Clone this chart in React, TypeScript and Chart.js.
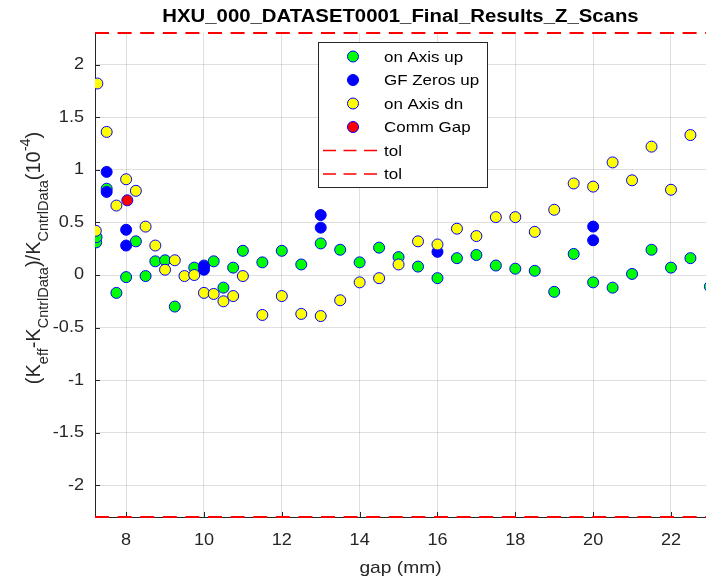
import React, { useEffect, useRef } from "react";
import { Chart, registerables } from "chart.js";

Chart.register(...registerables);

// ---------- data ----------
const titleText = "HXU_000_DATASET0001_Final_Results_Z_Scans";
const xAxisLabel = "gap (mm)";
const xTicks = [8, 10, 12, 14, 16, 18, 20, 22];
const yTicks = [-2, -1.5, -1, -0.5, 0, 0.5, 1, 1.5, 2];
const xRange = [7.2, 22.9];
const yRange = [-2.3, 2.3];

const onAxisUpX = [7.23, 7.24, 7.5, 7.75, 8, 8.25, 8.5, 8.75, 9, 9.25, 9.75, 10, 10.25, 10.5, 10.75, 11, 11.5, 12, 12.5, 13, 13.5, 14, 14.5, 15, 15.5, 16, 16.5, 17, 17.5, 18, 18.5, 19, 19.5, 20, 20.5, 21, 21.5, 22, 22.5, 23];
const onAxisUpY = [0.31, 0.36, 0.82, -0.17, -0.02, 0.32, -0.01, 0.13, 0.14, -0.3, 0.07, 0.09, 0.13, -0.12, 0.07, 0.23, 0.12, 0.23, 0.1, 0.3, 0.24, 0.12, 0.26, 0.17, 0.08, -0.03, 0.16, 0.19, 0.09, 0.06, 0.04, -0.16, 0.2, -0.07, -0.12, 0.01, 0.24, 0.07, 0.16, -0.11];

const gfZerosUpX = [7.5, 7.5, 8, 8, 10, 10, 13, 13, 16, 20, 20];
const gfZerosUpY = [0.98, 0.79, 0.43, 0.28, 0.05, 0.08, 0.57, 0.45, 0.22, 0.46, 0.33];

const onAxisDnX = [7.26, 7.22, 7.5, 7.75, 8, 8.25, 8.5, 8.75, 9, 9.25, 9.5, 9.75, 10, 10.25, 10.5, 10.75, 11, 11.5, 12, 12.5, 13, 13.5, 14, 14.5, 15, 15.5, 16, 16.5, 17, 17.5, 18, 18.5, 19, 19.5, 20, 20.5, 21, 21.5, 22, 22.5];
const onAxisDnY = [1.82, 0.42, 1.36, 0.66, 0.91, 0.8, 0.46, 0.28, 0.05, 0.14, -0.01, 0.0, -0.17, -0.18, -0.25, -0.2, -0.01, -0.38, -0.2, -0.37, -0.39, -0.24, -0.07, -0.03, 0.1, 0.32, 0.29, 0.44, 0.37, 0.55, 0.55, 0.41, 0.62, 0.87, 0.84, 1.07, 0.9, 1.22, 0.81, 1.33];

const commGapX = [8.03];
const commGapY = [0.71];

const tolX = [7.2, 23];
const tolUpperY = [2.3, 2.3];
const tolLowerY = [-2.3, -2.3];

const seriesLabels = ["on Axis up", "GF Zeros up", "on Axis dn", "Comm Gap", "tol", "tol"];

// ---------- styling helpers ----------
const FONT = '"Liberation Sans", Arial, sans-serif';
const SX = 1.13;
const TXT = "#262626";

const pts = (xs: number[], ys: number[]) => xs.map((x, i) => ({ x, y: ys[i] }));

function drawText(
  ctx: CanvasRenderingContext2D,
  s: string,
  x: number,
  y: number,
  font: string,
  align: CanvasTextAlign,
  baseline: CanvasTextBaseline,
  color: string
) {
  ctx.save();
  ctx.translate(x, y);
  ctx.scale(SX, 1);
  ctx.font = font;
  ctx.textAlign = align;
  ctx.textBaseline = baseline;
  ctx.fillStyle = color;
  ctx.fillText(s, 0, 0);
  ctx.restore();
}

type Seg = { t: string; s: number };
const yLabelSegs: Seg[] = [
  { t: "(K", s: 0 },
  { t: "eff", s: -1 },
  { t: "-K", s: 0 },
  { t: "CntrlData", s: -1 },
  { t: ")/K", s: 0 },
  { t: "CntrlData", s: -1 },
  { t: "(10", s: 0 },
  { t: "-4", s: 1 },
  { t: ")", s: 0 },
];

const overlayPlugin = {
  id: "overlay",
  beforeDatasetsDraw(chart: any) {
    const ctx = chart.ctx as CanvasRenderingContext2D;
    const a = chart.chartArea;
    const xs = chart.scales.x;
    const ys = chart.scales.y;
    ctx.save();
    ctx.strokeStyle = TXT;
    ctx.lineWidth = 1;
    xTicks.forEach((v) => {
      const px = Math.round(xs.getPixelForValue(v)) + 0.5;
      ctx.beginPath();
      ctx.moveTo(px, a.bottom);
      ctx.lineTo(px, a.bottom - 5);
      ctx.stroke();
    });
    yTicks.forEach((v) => {
      const py = Math.round(ys.getPixelForValue(v)) + 0.5;
      ctx.beginPath();
      ctx.moveTo(a.left, py);
      ctx.lineTo(a.left + 5, py);
      ctx.stroke();
    });
    ctx.restore();
  },
  afterDraw(chart: any) {
    const ctx = chart.ctx as CanvasRenderingContext2D;
    const a = chart.chartArea;
    const xs = chart.scales.x;
    const ys = chart.scales.y;
    const cx = (a.left + a.right) / 2;

    // tick labels
    xTicks.forEach((v) =>
      drawText(ctx, String(v), xs.getPixelForValue(v), a.bottom + 28, `16px ${FONT}`, "center", "alphabetic", TXT)
    );
    yTicks.forEach((v) =>
      drawText(ctx, String(v), a.left - 11, ys.getPixelForValue(v), `16px ${FONT}`, "right", "middle", TXT)
    );

    // title
    drawText(ctx, titleText, cx, 22, `bold 18px ${FONT}`, "center", "alphabetic", "#000");
    // x label
    drawText(ctx, xAxisLabel, cx, a.bottom + 56, `17px ${FONT}`, "center", "alphabetic", TXT);

    // y label (rich text, rotated)
    const big = 20;
    const small = 14.5;
    ctx.save();
    ctx.translate(39.5, 258);
    ctx.rotate(-Math.PI / 2);
    let total = 0;
    const widths = yLabelSegs.map((g) => {
      ctx.font = `${g.s === 0 ? big : small}px ${FONT}`;
      const w = ctx.measureText(g.t).width;
      total += w;
      return w;
    });
    let pos = -total / 2;
    ctx.fillStyle = TXT;
    ctx.textBaseline = "alphabetic";
    ctx.textAlign = "left";
    yLabelSegs.forEach((g, i) => {
      ctx.font = `${g.s === 0 ? big : small}px ${FONT}`;
      const dy = g.s === -1 ? 8 : g.s === 1 ? -10 : 0;
      ctx.fillText(g.t, pos, dy);
      pos += widths[i];
    });
    ctx.restore();

    // legend
    const lx = 318.5, ly = 42.5, lw = 169, lh = 145;
    ctx.save();
    ctx.fillStyle = "#fff";
    ctx.fillRect(lx, ly, lw, lh);
    ctx.strokeStyle = TXT;
    ctx.lineWidth = 1;
    ctx.strokeRect(lx, ly, lw, lh);
    const datasets = chart.data.datasets;
    const rowY0 = 56.5;
    const rowDy = 23.5;
    datasets.forEach((ds: any, i: number) => {
      const y = rowY0 + i * rowDy;
      if (ds.type === "line") {
        ctx.save();
        ctx.strokeStyle = ds.borderColor;
        ctx.lineWidth = 1.5;
        ctx.setLineDash([13, 7.5]);
        ctx.beginPath();
        ctx.moveTo(323, y);
        ctx.lineTo(379, y);
        ctx.stroke();
        ctx.restore();
      } else {
        ctx.beginPath();
        ctx.arc(353, y, ds.pointRadius, 0, Math.PI * 2);
        ctx.fillStyle = ds.backgroundColor;
        ctx.fill();
        ctx.strokeStyle = ds.borderColor;
        ctx.lineWidth = ds.borderWidth;
        ctx.stroke();
      }
      drawText(ctx, ds.label, 384, y + 1, `15px ${FONT}`, "left", "middle", "#000");
    });
    ctx.restore();
  },
};

function markerSet(label: string, xs: number[], ys: number[], color: string, order: number) {
  return {
    type: "scatter" as const,
    label,
    data: pts(xs, ys),
    backgroundColor: color,
    borderColor: "#0000ff",
    borderWidth: 1,
    pointRadius: 5.5,
    pointHoverRadius: 5.5,
    order,
  };
}

function tolSet(label: string, ys: number[]) {
  return {
    type: "line" as const,
    label,
    data: pts(tolX, ys),
    borderColor: "#ff0000",
    backgroundColor: "#ff0000",
    borderWidth: 2,
    borderDash: [14, 8.6],
    pointRadius: 0,
    fill: false,
    clip: 2,
    order: 0,
  };
}

export default function App() {
  const ref = useRef<HTMLCanvasElement | null>(null);
  useEffect(() => {
    if (!ref.current) return;
    const chart = new Chart(ref.current, {
      type: "scatter",
      data: {
        datasets: [
          markerSet(seriesLabels[0], onAxisUpX, onAxisUpY, "#00ff00", 4),
          markerSet(seriesLabels[1], gfZerosUpX, gfZerosUpY, "#0000ff", 3),
          markerSet(seriesLabels[2], onAxisDnX, onAxisDnY, "#ffff00", 2),
          markerSet(seriesLabels[3], commGapX, commGapY, "#ff0000", 1),
          tolSet(seriesLabels[4], tolUpperY),
          tolSet(seriesLabels[5], tolLowerY),
        ] as any,
      },
      options: {
        animation: false,
        responsive: false,
        devicePixelRatio: 1,
        layout: { autoPadding: false, padding: { top: 33, left: 0, right: 0, bottom: 0 } },
        plugins: {
          legend: { display: false },
          title: { display: false },
          tooltip: { enabled: false },
        },
        scales: {
          x: {
            type: "linear",
            min: xRange[0],
            max: xRange[1],
            afterBuildTicks: (s: any) => {
              s.ticks = xTicks.map((v) => ({ value: v }));
            },
            afterFit: (s: any) => {
              s.height = 65;
            },
            ticks: { display: false },
            grid: { color: "rgba(38,38,38,0.15)", lineWidth: 1, drawTicks: false },
            border: { display: true, color: TXT, width: 1 },
          },
          y: {
            type: "linear",
            min: yRange[0],
            max: yRange[1],
            afterBuildTicks: (s: any) => {
              s.ticks = yTicks.map((v) => ({ value: v }));
            },
            afterFit: (s: any) => {
              s.width = 95;
            },
            ticks: { display: false },
            grid: { color: "rgba(38,38,38,0.15)", lineWidth: 1, drawTicks: false },
            border: { display: true, color: TXT, width: 1 },
          },
        },
      },
      plugins: [overlayPlugin],
    });
    return () => chart.destroy();
  }, []);

  return (
    <div style={{ position: "absolute", left: 0, top: 0, width: 706, height: 582, background: "#fff" }}>
      <canvas ref={ref} width={706} height={582} style={{ display: "block" }} />
    </div>
  );
}
